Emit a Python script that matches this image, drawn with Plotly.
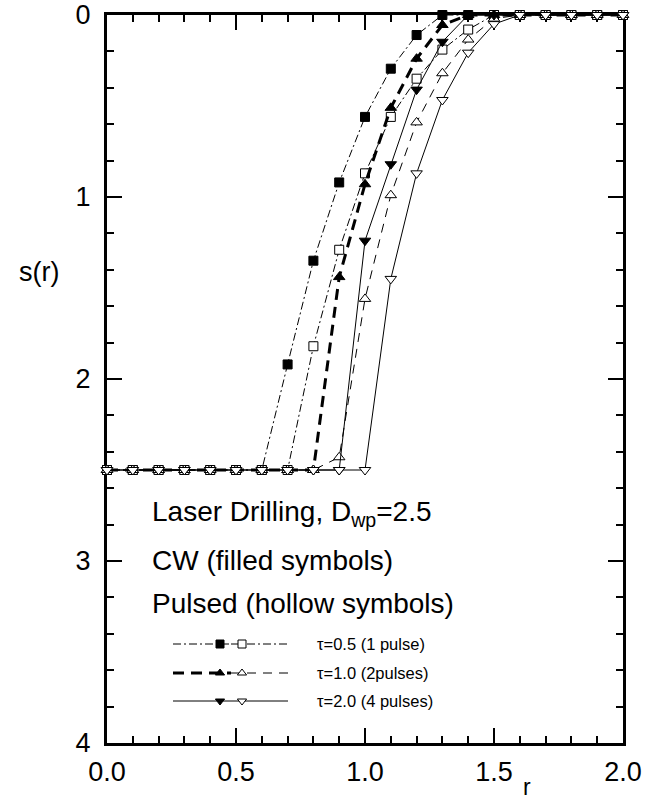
import plotly.graph_objects as go

# ---------------- data ----------------
r = [0.0, 0.1, 0.2, 0.3, 0.4, 0.5, 0.6, 0.7, 0.8, 0.9, 1.0,
     1.1, 1.2, 1.3, 1.4, 1.5, 1.6, 1.7, 1.8, 1.9, 2.0]

cw_t05 = [2.5, 2.5, 2.5, 2.5, 2.5, 2.5, 2.5, 1.92, 1.35, 0.92, 0.56,
          0.295, 0.11, 0.0, 0.0, 0.0, 0.0, 0.0, 0.0, 0.0, 0.0]
pl_t05 = [2.5, 2.5, 2.5, 2.5, 2.5, 2.5, 2.5, 2.5, 1.82, 1.29, 0.87,
          0.56, 0.35, 0.19, 0.08, 0.0, 0.0, 0.0, 0.0, 0.0, 0.0]
cw_t10 = [2.5, 2.5, 2.5, 2.5, 2.5, 2.5, 2.5, 2.5, 2.5, 1.44, 0.93,
          0.51, 0.24, 0.055, 0.0, 0.0, 0.0, 0.0, 0.0, 0.0, 0.0]
pl_t10 = [2.5, 2.5, 2.5, 2.5, 2.5, 2.5, 2.5, 2.5, 2.5, 2.43, 1.56,
          0.99, 0.59, 0.32, 0.135, 0.02, 0.0, 0.0, 0.0, 0.0, 0.0]
cw_t20 = [2.5, 2.5, 2.5, 2.5, 2.5, 2.5, 2.5, 2.5, 2.5, 2.5, 1.24,
          0.82, 0.41, 0.147, 0.0, 0.0, 0.0, 0.0, 0.0, 0.0, 0.0]
pl_t20 = [2.5, 2.5, 2.5, 2.5, 2.5, 2.5, 2.5, 2.5, 2.5, 2.5, 2.5,
          1.45, 0.87, 0.467, 0.207, 0.05, 0.0, 0.0, 0.0, 0.0, 0.0]

x_ticks = [0.0, 0.5, 1.0, 1.5, 2.0]
x_tick_text = ["0.0", "0.5", "1.0", "1.5", "2.0"]
y_ticks = [0, 1, 2, 3, 4]
y_tick_text = ["0", "1", "2", "3", "4"]

legend_labels = ["\u03c4=0.5 (1 pulse)", "\u03c4=1.0 (2pulses)", "\u03c4=2.0 (4 pulses)"]

FONT = "Liberation Sans, Arial, Helvetica, sans-serif"
TEXT_SIZE = 28
TICK_SIZE = 27

# ---------------- layout geometry (pixels) ----------------
W, H = 652, 799
L, R, T, B = 107, 623, 15, 743


def px(xp):
    return (xp - L) / (R - L)


def py(yp):
    return (B - yp) / (B - T)


DASHDOT = "8px,3px,2px,3px"
THICKDASH = "11px,7px"
THINDASH = "9px,7px"

series = [
    (cw_t05, "square", "black", 1, DASHDOT, 9),
    (pl_t05, "square", "white", 1, DASHDOT, 9),
    (cw_t10, "triangle-up", "black", 3, THICKDASH, 10),
    (pl_t10, "triangle-up", "white", 1, THINDASH, 10),
    (cw_t20, "triangle-down", "black", 1, "solid", 10),
    (pl_t20, "triangle-down", "white", 1, "solid", 10),
]

fig = go.Figure()
for vals, sym, fill, lw, dash, ms in series:
    fig.add_trace(go.Scatter(
        x=r, y=vals, mode="lines+markers",
        line=dict(color="black", width=lw, dash=dash),
        marker=dict(symbol=sym, size=ms, color=fill,
                    line=dict(color="black", width=1)),
        cliponaxis=False, showlegend=False, hoverinfo="skip"))

# ---------------- custom legend (drawn on a pixel-overlay axis) ----------------
leg_rows = [644, 673, 701]
leg_x0, leg_mid, leg_x1 = 173, 231, 288
leg_fill_x, leg_hollow_x = 220, 242
leg_styles = [
    ("square", (1, DASHDOT), (1, DASHDOT)),
    ("triangle-up", (3, THICKDASH), (1, THINDASH)),
    ("triangle-down", (1, "solid"), (1, "solid")),
]
for yrow, (sym, left_style, right_style) in zip(leg_rows, leg_styles):
    fig.add_trace(go.Scatter(
        x=[leg_x0, leg_mid], y=[yrow, yrow], mode="lines",
        line=dict(color="black", width=left_style[0], dash=left_style[1]),
        xaxis="x2", yaxis="y2", showlegend=False, hoverinfo="skip"))
    fig.add_trace(go.Scatter(
        x=[leg_mid, leg_x1], y=[yrow, yrow], mode="lines",
        line=dict(color="black", width=right_style[0], dash=right_style[1]),
        xaxis="x2", yaxis="y2", showlegend=False, hoverinfo="skip"))
    fig.add_trace(go.Scatter(
        x=[leg_fill_x], y=[yrow], mode="markers",
        marker=dict(symbol=sym, size=8, color="black",
                    line=dict(color="black", width=1)),
        xaxis="x2", yaxis="y2", showlegend=False, hoverinfo="skip"))
    fig.add_trace(go.Scatter(
        x=[leg_hollow_x], y=[yrow], mode="markers",
        marker=dict(symbol=sym, size=8, color="white",
                    line=dict(color="black", width=1)),
        xaxis="x2", yaxis="y2", showlegend=False, hoverinfo="skip"))

annotations = []
for yrow, lab in zip(leg_rows, legend_labels):
    annotations.append(dict(x=px(315), y=py(yrow), xref="paper", yref="paper",
                            text=lab, showarrow=False, xanchor="left", yanchor="middle",
                            font=dict(family=FONT, size=16.5, color="black")))

for txt, yc in [("Laser Drilling, D<sub>wp</sub>=2.5", 513),
                ("CW (filled symbols)", 560),
                ("Pulsed (hollow symbols)", 603)]:
    annotations.append(dict(x=px(150), y=py(yc), xref="paper", yref="paper",
                            text=txt, showarrow=False, xanchor="left", yanchor="middle",
                            font=dict(family=FONT, size=TEXT_SIZE, color="black")))

annotations.append(dict(x=px(39), y=py(272), xref="paper", yref="paper", text="s(r)",
                        showarrow=False, xanchor="center", yanchor="middle",
                        font=dict(family=FONT, size=TEXT_SIZE - 1, color="black")))
annotations.append(dict(x=px(527), y=py(787), xref="paper", yref="paper", text="r",
                        showarrow=False, xanchor="center", yanchor="middle",
                        font=dict(family=FONT, size=TICK_SIZE - 4, color="black")))

axis_common = dict(showline=True, linewidth=3, linecolor="black", mirror="ticks",
                   ticks="inside", ticklen=15, tickwidth=2, tickcolor="black",
                   showgrid=False, zeroline=False, layer="below traces",
                   automargin=False,
                   tickfont=dict(family=FONT, size=TICK_SIZE, color="black"))

fig.update_layout(
    width=W, height=H,
    margin=dict(l=L, r=W - R, t=T, b=H - B),
    paper_bgcolor="white", plot_bgcolor="white",
    showlegend=False,
    xaxis=dict(range=[0, 2], tickvals=x_ticks, ticktext=x_tick_text,
               minor=dict(dtick=0.1, ticks="inside", ticklen=7, tickwidth=2, tickcolor="black"),
               ticklabelstandoff=3, **axis_common),
    yaxis=dict(range=[4, 0], tickvals=y_ticks, ticktext=y_tick_text,
               minor=dict(dtick=0.2, ticks="inside", ticklen=7, tickwidth=2, tickcolor="black"),
               ticklabelstandoff=8, **axis_common),
    xaxis2=dict(overlaying="x", range=[L, R], visible=False, fixedrange=True),
    yaxis2=dict(overlaying="y", range=[B, T], visible=False, fixedrange=True),
    annotations=annotations,
)

fig.write_html("out.html")
